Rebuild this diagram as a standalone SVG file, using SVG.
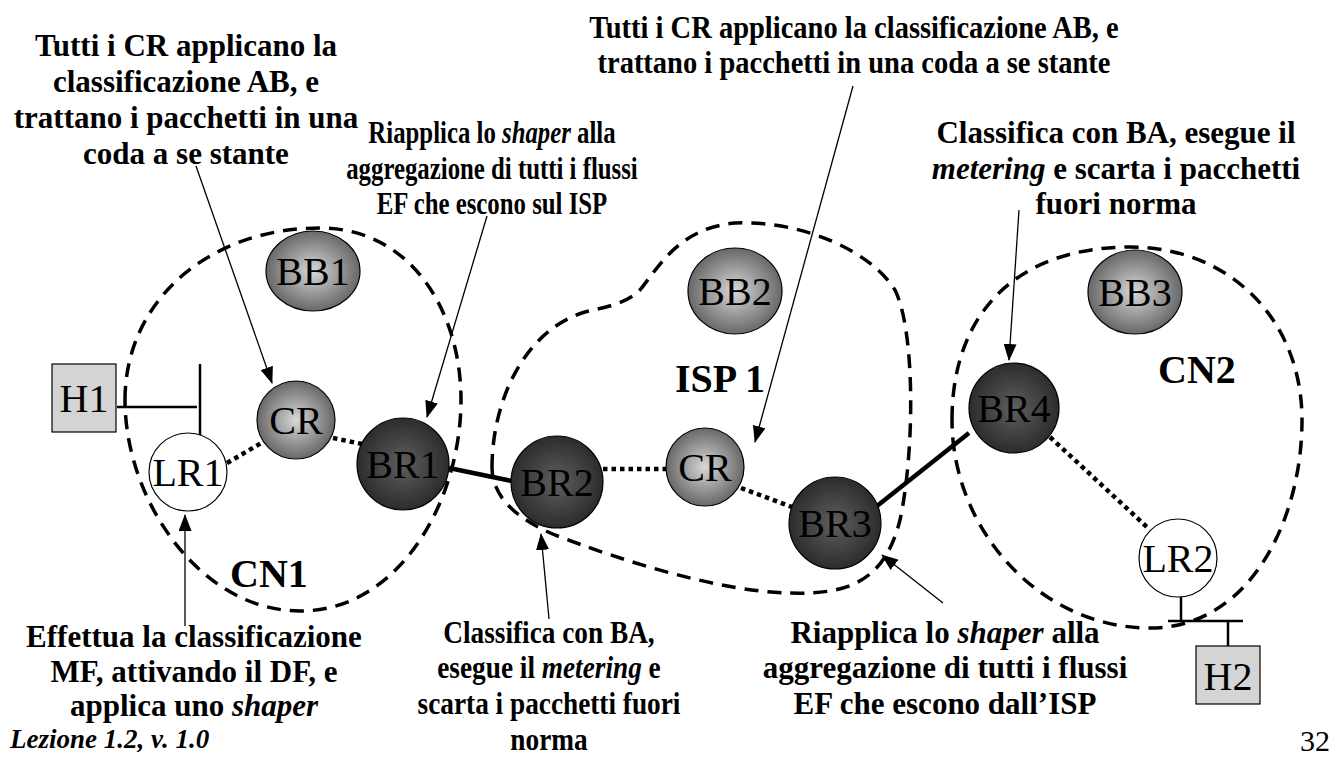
<svg xmlns="http://www.w3.org/2000/svg" width="1339" height="758" viewBox="0 0 1339 758">
<style>
.ann{font-family:"Liberation Serif","Times New Roman",serif;font-weight:bold;font-size:31px;fill:#000;text-anchor:middle}
.lbl{font-family:"Liberation Serif","Times New Roman",serif;font-size:40px;fill:#000;text-anchor:middle}
.area{font-family:"Liberation Serif","Times New Roman",serif;font-weight:bold;font-size:40px;fill:#000}
.it{font-style:italic}
.light{fill:url(#gLight);stroke:#000;stroke-width:1.2}
.dark{fill:url(#gDark);stroke:#000;stroke-width:1.2}
.white{fill:#fff;stroke:#000;stroke-width:1.2}
.host{fill:#d4d4d4;stroke:#000;stroke-width:1.2}
.outline{fill:none;stroke:#000;stroke-width:3.5;stroke-dasharray:14 9}
.dot{fill:none;stroke:#000;stroke-width:4.5;stroke-dasharray:4.5 4}
.thick{fill:none;stroke:#000;stroke-width:4.5}
.wire{fill:none;stroke:#000;stroke-width:2.5}
.arr{fill:none;stroke:#000;stroke-width:1.3;marker-end:url(#ah)}
</style>
<defs>
<radialGradient id="gLight" cx="50%" cy="50%" r="50%">
<stop offset="0" stop-color="#d8d8d8"/>
<stop offset="1" stop-color="#686868"/>
</radialGradient>
<radialGradient id="gDark" cx="50%" cy="50%" r="50%">
<stop offset="0" stop-color="#5f5f5f"/>
<stop offset="1" stop-color="#2c2c2c"/>
</radialGradient>
<marker id="ah" viewBox="0 0 17 13" refX="16" refY="6.5" markerWidth="17" markerHeight="13" markerUnits="userSpaceOnUse" orient="auto">
<path d="M0,0 L17,6.5 L0,13 Z" fill="#000"/>
</marker>
</defs>
<rect width="1339" height="758" fill="#fff"/>

<g id="connectors">
<line class="dot" x1="227" y1="463" x2="263" y2="442"/>
<line class="dot" x1="333" y1="438" x2="362" y2="444"/>
<line class="thick" x1="449" y1="468" x2="512" y2="481"/>
<line class="dot" x1="603" y1="469" x2="666" y2="469"/>
<line class="dot" x1="741" y1="488" x2="792" y2="507"/>
<line class="thick" x1="877" y1="506" x2="969" y2="433"/>
<line class="dot" x1="1050" y1="437" x2="1148" y2="528"/>
<line class="wire" x1="117" y1="407" x2="197" y2="407"/>
<line class="wire" x1="200" y1="364" x2="200" y2="440" stroke-width="2"/>
<line class="wire" x1="1181" y1="597" x2="1181" y2="621" stroke-width="3"/>
<line class="wire" x1="1168" y1="621" x2="1243" y2="621" stroke-width="3.5"/>
<line class="wire" x1="1228" y1="621" x2="1228" y2="646" stroke-width="3"/>
<line class="arr" x1="196" y1="166" x2="272" y2="383"/>
<line class="arr" x1="487" y1="216" x2="427" y2="417"/>
<line class="arr" x1="853" y1="86" x2="755" y2="442"/>
<line class="arr" x1="1019" y1="210" x2="1009" y2="360"/>
<line class="arr" x1="185" y1="626" x2="185" y2="515"/>
<line class="arr" x1="549" y1="619" x2="541" y2="534"/>
<line class="arr" x1="943" y1="603" x2="882" y2="555"/>
</g>

<g id="H1"><rect class="host" x="52" y="364" width="64" height="68"/><text class="lbl" x="84" y="412">H1</text></g>
<g id="LR1"><circle class="white" cx="188" cy="472" r="39"/><text class="lbl" x="188" y="486">LR1</text></g>
<g id="BB1"><ellipse class="light" cx="313" cy="271" rx="47" ry="40"/><text class="lbl" x="313" y="285">BB1</text></g>
<g id="CR1"><circle class="light" cx="296" cy="420" r="39"/><text class="lbl" x="296" y="434">CR</text></g>
<g id="BR1"><circle class="dark" cx="403" cy="464" r="46"/><text class="lbl" x="403" y="478">BR1</text></g>
<g id="BB2"><ellipse class="light" cx="735" cy="291" rx="47" ry="43"/><text class="lbl" x="735" y="305">BB2</text></g>
<g id="BR2"><circle class="dark" cx="557" cy="482" r="46"/><text class="lbl" x="557" y="496">BR2</text></g>
<g id="CR2"><circle class="light" cx="705" cy="467" r="39"/><text class="lbl" x="705" y="481">CR</text></g>
<g id="BR3"><circle class="dark" cx="835" cy="523" r="46"/><text class="lbl" x="835" y="537">BR3</text></g>
<g id="BB3"><ellipse class="light" cx="1135" cy="292" rx="47" ry="42"/><text class="lbl" x="1135" y="306">BB3</text></g>
<g id="BR4"><circle class="dark" cx="1014" cy="408" r="45"/><text class="lbl" x="1014" y="422">BR4</text></g>
<g id="LR2"><circle class="white" cx="1178" cy="558" r="39"/><text class="lbl" x="1178" y="572">LR2</text></g>
<g id="H2"><rect class="host" x="1196" y="646" width="64" height="58"/><text class="lbl" x="1228" y="690">H2</text></g>

<g id="CN1">
<path class="outline" d="M125,400 C125,300 210,228 320,228 C410,228 461,310 461,400 C461,500 400,611 300,611 C200,611 125,500 125,400 Z"/>
<text class="area" x="230" y="587">CN1</text>
</g>
<g id="ISP1">
<path class="outline" d="M492,468 C492,400 525,330 585,312 C600,308 625,305 640,290 C660,265 680,228 735,223 C800,220 870,250 895,290 C915,330 915,450 900,520 C885,580 850,595 790,593 C720,592 620,560 555,535 C520,520 493,500 492,468 Z"/>
<text class="area" x="675" y="392">ISP 1</text>
</g>
<g id="CN2">
<path class="outline" d="M952,420 C952,310 1020,247 1130,247 C1230,247 1302,320 1302,420 C1302,520 1250,628 1150,628 C1040,628 952,530 952,420 Z"/>
<text class="area" x="1158" y="383">CN2</text>
</g>

<g id="note-cr1">
<text class="ann" x="186" y="56">Tutti i CR applicano la</text>
<text class="ann" x="186" y="92">classificazione AB, e</text>
<text class="ann" x="186" y="128">trattano i pacchetti in una</text>
<text class="ann" x="186" y="164">coda a se stante</text>
</g>
<g id="note-br1" transform="translate(492 0) scale(0.8 1) translate(-492 0)">
<text class="ann" x="492" y="143">Riapplica lo <tspan class="it">shaper</tspan> alla</text>
<text class="ann" x="492" y="179">aggregazione di tutti i flussi</text>
<text class="ann" x="492" y="214">EF che escono sul ISP</text>
</g>
<g id="note-cr2" transform="translate(854 0) scale(0.92 1) translate(-854 0)">
<text class="ann" x="854" y="38">Tutti i CR applicano la classificazione AB, e</text>
<text class="ann" x="854" y="73">trattano i pacchetti in una coda a se stante</text>
</g>
<g id="note-br4">
<text class="ann" x="1116" y="143">Classifica con BA, esegue il</text>
<text class="ann" x="1116" y="179"><tspan class="it">metering</tspan> e scarta i pacchetti</text>
<text class="ann" x="1116" y="214">fuori norma</text>
</g>
<g id="note-lr1">
<text class="ann" x="194" y="647">Effettua la classificazione</text>
<text class="ann" x="194" y="682">MF, attivando il DF, e</text>
<text class="ann" x="194" y="716">applica uno <tspan class="it">shaper</tspan></text>
</g>
<g id="note-br2" transform="translate(549 0) scale(0.88 1) translate(-549 0)">
<text class="ann" x="549" y="643">Classifica con BA,</text>
<text class="ann" x="549" y="678">esegue il <tspan class="it">metering</tspan> e</text>
<text class="ann" x="549" y="714">scarta i pacchetti fuori</text>
<text class="ann" x="549" y="750">norma</text>
</g>
<g id="note-br3">
<text class="ann" x="945" y="643">Riapplica lo <tspan class="it">shaper</tspan> alla</text>
<text class="ann" x="945" y="678">aggregazione di tutti i flussi</text>
<text class="ann" x="945" y="714">EF che escono dall’ISP</text>
</g>
<text x="10" y="748" font-family="Liberation Serif, serif" font-weight="bold" font-style="italic" font-size="27">Lezione 1.2, v. 1.0</text>
<text x="1300" y="751" font-family="Liberation Serif, serif" font-size="30">32</text>
</svg>
